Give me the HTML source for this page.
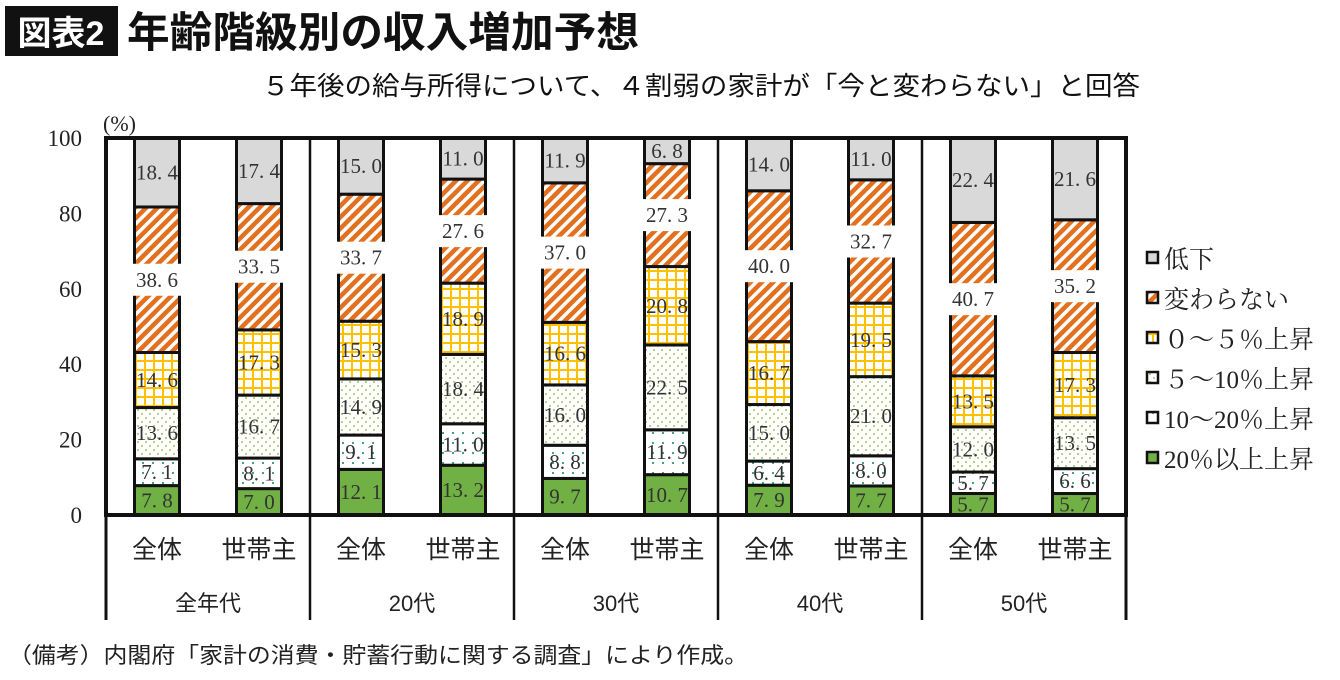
<!DOCTYPE html>
<html><head><meta charset="utf-8"><style>
body{margin:0;width:1340px;height:675px;background:#fff;overflow:hidden;font-family:"Liberation Sans","Noto Sans CJK JP",sans-serif}
</style></head><body>
<svg width="1340" height="675" viewBox="0 0 1340 675" xmlns="http://www.w3.org/2000/svg">
<defs>
<pattern id="pOr" width="8" height="8" patternUnits="userSpaceOnUse" patternTransform="rotate(45)"><rect width="8" height="8" fill="#fff"/><rect width="4.5" height="8" fill="#E2701E"/></pattern>
<pattern id="pYe" width="9" height="9" patternUnits="userSpaceOnUse"><rect width="9" height="9" fill="#fff"/><rect width="2" height="9" fill="#FFC000"/><rect width="9" height="2" fill="#FFC000"/></pattern>
<pattern id="pLg" width="8" height="8" patternUnits="userSpaceOnUse"><rect width="8" height="8" fill="#fff"/><circle cx="2" cy="2" r="1" fill="#9CBF6A"/><circle cx="6" cy="6" r="1" fill="#9CBF6A"/></pattern>
<pattern id="pTe" width="10" height="10" patternUnits="userSpaceOnUse"><rect width="10" height="10" fill="#fff"/><circle cx="3" cy="3" r="1.1" fill="#2E9A7A"/></pattern>
</defs>
<g>
<rect x="5" y="6" width="113" height="50" fill="#111"/>
<text x="61" y="45" font-size="34" font-weight="bold" fill="#fff" text-anchor="middle">図表2</text>
<text x="127" y="47" font-size="42" font-weight="bold" fill="#111" textLength="512" lengthAdjust="spacingAndGlyphs">年齢階級別の収入増加予想</text>
</g>
<text x="262" y="95" font-size="26" fill="#111" textLength="878" lengthAdjust="spacingAndGlyphs">５年後の給与所得について、４割弱の家計が「今と変わらない」と回答</text>
<text x="103" y="131" font-size="22" font-family="Liberation Serif,serif" fill="#222">(%)</text>
<g id="bars"></g>
<g id="axes"></g>
<g id="legend"></g>
<text x="8" y="663" font-size="22" fill="#222" textLength="740" lengthAdjust="spacingAndGlyphs">（備考）内閣府「家計の消費・貯蓄行動に関する調査」により作成。</text>
</svg>
<script>
const groups=["全年代","20代","30代","40代","50代"];
const subs=["全体","世帯主"];
const seriesNames=["20％以上上昇","10～20％上昇","５～10％上昇","０～５％上昇","変わらない","低下"];
const s20up=[7.8,7.0,12.1,13.2,9.7,10.7,7.9,7.7,5.7,5.7];
const s10to20=[7.1,8.1,9.1,11.0,8.8,11.9,6.4,8.0,5.7,6.6];
const s5to10=[13.6,16.7,14.9,18.4,16.0,22.5,15.0,21.0,12.0,13.5];
const s0to5=[14.6,17.3,15.3,18.9,16.6,20.8,16.7,19.5,13.5,17.3];
const sSame=[38.6,33.5,33.7,27.6,37.0,27.3,40.0,32.7,40.7,35.2];
const sDown=[18.4,17.4,15.0,11.0,11.9,6.8,14.0,11.0,22.4,21.6];
const yTicks=[0,20,40,60,80,100];
const series=[s20up,s10to20,s5to10,s0to5,sSame,sDown];
const fills=["#70B044","url(#pTe)","url(#pLg)","url(#pYe)","url(#pOr)","#D9D9D9"];
const NS="http://www.w3.org/2000/svg";
const X0=106,X1=1126,Y0=515,Y1=138,GW=(X1-X0)/groups.length,BW=45;
const y=v=>Y0-(v/100)*(Y0-Y1);
const xc=i=>X0+Math.floor(i/2)*GW+(i%2===0?0.25:0.75)*GW;
function mk(tag,attrs,parent){const e=document.createElementNS(NS,tag);for(const k in attrs)e.setAttribute(k,attrs[k]);parent.appendChild(e);return e;}
const gb=document.getElementById('bars'),ga=document.getElementById('axes'),gl=document.getElementById('legend');
for(let i=0;i<s20up.length;i++){
  let cum=0;
  for(let s=0;s<series.length;s++){
    const v=series[s][i];const a=cum,b=Math.min(100,cum+v);cum+=v;
    const r=mk('rect',{x:xc(i)-BW/2,y:y(b),width:BW,height:y(a)-y(b),fill:fills[s],stroke:'#111','stroke-width':3},gb);
    
    
    const ym=(y(a)+y(b))/2;
    if(s===4){
      const bx=mk('rect',{x:xc(i)-30,y:ym-16,width:60,height:32,fill:'#fff'},gb);
      
      
    }
    const t=mk('text',{x:xc(i),y:ym+7,'font-size':21,'text-anchor':'middle','font-family':'Liberation Serif,serif',fill:'#333'},gb);
    t.textContent=v.toFixed(1).replace('.','. ');
    
    
  }
}
mk('rect',{x:X0,y:Y1,width:X1-X0,height:Y0-Y1,fill:'none',stroke:'#111','stroke-width':4},ga);
for(let g=0;g<=groups.length;g++){
  const l=mk('line',{x1:X0+g*GW,y1:Y1,x2:X0+g*GW,y2:620,stroke:'#111','stroke-width':g===0||g===groups.length?3:2.5},ga);
  
  
}
yTicks.forEach(v=>{
  const t=mk('text',{x:82,y:y(v)+8,'font-size':23,'text-anchor':'end','font-family':'Liberation Serif,serif',fill:'#222'},ga);
  t.textContent=v;
  
  
});
for(let i=0;i<s20up.length;i++){
  const t=mk('text',{x:xc(i),y:558,'font-size':25,'text-anchor':'middle','font-family':'"Liberation Sans","Noto Sans CJK JP",sans-serif',fill:'#222'},ga);
  t.textContent=subs[i%2];
  
  
}
groups.forEach((g,k)=>{
  const t=mk('text',{x:X0+(k+0.5)*GW,y:611,'font-size':22,'text-anchor':'middle','font-family':'"Liberation Sans","Noto Sans CJK JP",sans-serif',fill:'#222'},ga);
  t.textContent=g;
  
  
});
for(let s=series.length-1;s>=0;s--){
  const row=series.length-1-s;const ly=258+row*40;
  const r=mk('rect',{x:1147,y:ly-6,width:11,height:11,fill:fills[s],stroke:'#111','stroke-width':2.5},gl);
  
  
  const t=mk('text',{x:1164,y:ly+10,'font-size':25,'font-family':'"Liberation Serif","Noto Serif CJK SC",serif',fill:'#222'},gl);
  t.textContent=seriesNames[s];
  
  
}
</script>
</body></html>
